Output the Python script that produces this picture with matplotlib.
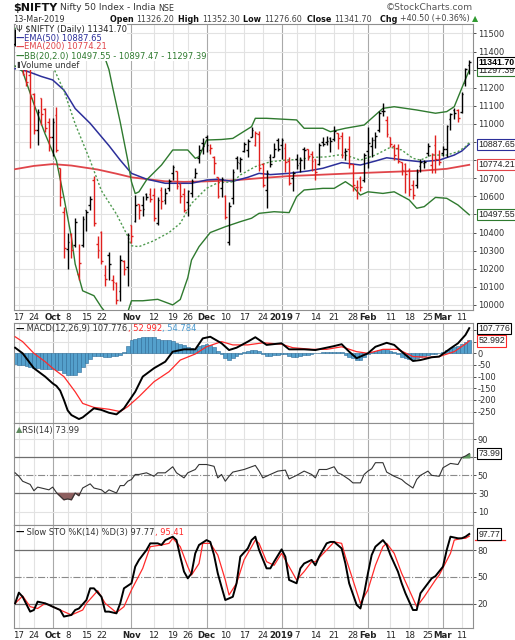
import numpy as np
import pandas as pd
import matplotlib
matplotlib.use("Agg")
import matplotlib.pyplot as plt
import matplotlib.transforms as mtransforms

plt.rcParams['font.family'] = ['DejaVu Sans']
plt.rcParams['axes.unicode_minus'] = False

# ---- trading days ----
holidays = ['2018-09-20', '2018-10-02', '2018-10-18', '2018-11-08',
            '2018-11-23', '2018-12-25', '2019-03-04']
days = pd.bdate_range('2018-09-14', '2019-03-13')
days = days[~days.isin(pd.to_datetime(holidays))]

tick_dates = ['2018-09-17', '2018-09-24', '2018-10-01', '2018-10-08', '2018-10-15',
              '2018-10-22', '2018-11-01', '2018-11-12', '2018-11-19', '2018-11-26',
              '2018-12-03', '2018-12-10', '2018-12-17', '2018-12-24', '2019-01-01',
              '2019-01-07', '2019-01-14', '2019-01-21', '2019-01-28', '2019-02-01',
              '2019-02-11', '2019-02-18', '2019-02-25', '2019-03-01', '2019-03-11']
tick_labels = ['17', '24', 'Oct', '8', '15', '22', 'Nov', '12', '19', '26', 'Dec', '10',
               '17', '24', '2019', '7', '14', '21', '28', 'Feb', '11', '18', '25', 'Mar', '11']
month_labels = ['Oct', 'Nov', 'Dec', '2019', 'Feb', 'Mar']

# ---- OHLC ----
prev_close = 11369.9
opens = [11443, 11464, 11381, 11326, 11271, 11164, 10969, 11145, 11080, 11008,
         10930, 11051, 10755, 10514, 10310, 10390, 10331, 10169, 10331, 10524,
         10550, 10688, 10339, 10405, 10166, 10278, 10135, 10122, 10078, 10240,
         10209, 10441, 10463, 10558, 10552, 10614, 10614, 10607, 10451, 10634,
         10580, 10644, 10731, 10740, 10670, 10612, 10568, 10621, 10708, 10809,
         10892, 10930, 10854, 10820, 10705, 10644, 10601, 10350, 10591, 10810,
         10784, 10853, 10856, 10930, 10885, 10944, 10780, 10635, 10817, 10820,
         10913, 10881, 10868, 10796, 10699, 10804, 10786, 10863, 10859, 10834,
         10807, 10777, 10899, 10900, 10920, 10919, 10949, 10931, 10844, 10859,
         10780, 10653, 10702, 10690, 10851, 10876, 10909, 10965, 11070, 11024,
         10930, 10880, 10865, 10789, 10780, 10746, 10661, 10665, 10770, 10782,
         10839, 10775, 10881, 10808, 10842, 10864, 11026, 11077, 11079, 11068,
         11228, 11326.2]
highs = [11523, 11464, 11411, 11333, 11346, 11170, 11080, 11145, 11089, 11034,
         11035, 11096, 10755, 10541, 10398, 10397, 10482, 10335, 10492, 10526,
         10604, 10710, 10380, 10408, 10222, 10290, 10166, 10129, 10275, 10246,
         10396, 10441, 10607, 10558, 10600, 10616, 10645, 10645, 10596, 10651,
         10646, 10695, 10774, 10740, 10671, 10646, 10637, 10695, 10757, 10883,
         10922, 10941, 10890, 10821, 10707, 10704, 10606, 10567, 10752, 10822,
         10815, 10900, 10915, 10985, 10962, 10963, 10782, 10747, 10834, 10893,
         10923, 10923, 10896, 10815, 10741, 10835, 10818, 10870, 10859, 10850,
         10808, 10896, 10928, 10931, 10930, 10987, 10949, 10955, 10866, 10931,
         10780, 10690, 10710, 10838, 10984, 10928, 10957, 11073, 11118, 11042,
         10930, 10889, 10890, 10792, 10785, 10758, 10692, 10750, 10808, 10801,
         10892, 10840, 10940, 10856, 10877, 10995, 11060, 11089, 11080, 11177,
         11310, 11352.3]
lows = [11430, 11366, 11268, 11210, 10866, 10943, 10882, 10993, 10953, 10851,
        10821, 10843, 10547, 10262, 10198, 10262, 10318, 10138, 10322, 10410,
        10525, 10436, 10262, 10224, 10102, 10138, 10080, 10005, 10020, 10164,
        10105, 10341, 10457, 10477, 10491, 10582, 10569, 10464, 10440, 10532,
        10557, 10631, 10688, 10640, 10562, 10512, 10489, 10599, 10699, 10782,
        10835, 10845, 10833, 10722, 10588, 10599, 10474, 10333, 10560, 10752,
        10732, 10845, 10819, 10928, 10880, 10738, 10649, 10534, 10764, 10817,
        10853, 10808, 10735, 10662, 10628, 10750, 10733, 10749, 10801, 10739,
        10692, 10772, 10876, 10883, 10845, 10903, 10864, 10814, 10798, 10756,
        10630, 10583, 10630, 10679, 10757, 10815, 10869, 10956, 11043, 10926,
        10870, 10802, 10784, 10718, 10620, 10604, 10585, 10647, 10732, 10757,
        10823, 10729, 10729, 10773, 10823, 10817, 10969, 11027, 11008, 11062,
        11211, 11276.6]
closes = [11515, 11377, 11278, 11234, 11143, 10967, 11067, 11053, 10977, 10930,
          11008, 10858, 10599, 10316, 10348, 10301, 10460, 10234, 10472, 10512,
          10584, 10453, 10303, 10245, 10146, 10224, 10124, 10030, 10250, 10198,
          10387, 10380, 10553, 10524, 10530, 10598, 10585, 10482, 10582, 10576,
          10616, 10682, 10763, 10656, 10600, 10526, 10628, 10685, 10728, 10858,
          10876, 10883, 10869, 10782, 10601, 10693, 10488, 10549, 10737, 10791,
          10805, 10888, 10908, 10967, 10951, 10754, 10663, 10729, 10779, 10859,
          10862, 10910, 10792, 10672, 10727, 10771, 10802, 10855, 10821, 10794,
          10737, 10886, 10890, 10905, 10907, 10961, 10922, 10831, 10849, 10780,
          10661, 10652, 10651, 10831, 10894, 10912, 10934, 11062, 11069, 10944,
          10888, 10831, 10793, 10746, 10724, 10640, 10605, 10735, 10789, 10792,
          10880, 10835, 10806, 10792, 10863, 10987, 11053, 11058, 11035, 11168,
          11301.2, 11341.7]

# ---- overlays (day index, value) ----
ema50_day = [0, 2, 4, 7, 10, 13, 16, 20, 25, 28, 31, 35, 40, 47, 51, 54, 58, 62, 65, 68,
             73, 78, 82, 87, 92, 96, 99, 104, 108, 113, 117, 119, 121]
ema50_val = [11305, 11298, 11285, 11262, 11243, 11187, 11085, 11003, 10880, 10800, 10727,
             10695, 10672, 10672, 10690, 10694, 10683, 10705, 10727, 10720, 10727, 10740,
             10755, 10786, 10773, 10795, 10813, 10800, 10791, 10800, 10828, 10850, 10888]
ema200_day = [0, 5, 10, 15, 22, 27, 31, 40, 45, 50, 58, 65, 73, 80, 90, 100, 108, 115, 121]
ema200_val = [10750, 10768, 10778, 10770, 10748, 10725, 10705, 10683, 10680, 10682, 10688,
              10700, 10712, 10718, 10727, 10735, 10741, 10752, 10774]
bbu_day = [20, 22, 23, 25, 26, 28, 30, 31, 32, 33, 35, 39, 42, 46, 48, 49, 51, 55, 58, 63,
           64, 67, 75, 77, 82, 84, 88, 93, 95, 98, 101, 107, 112, 115, 117, 119, 121]
bbu_val = [11700, 11552, 11420, 11300, 11200, 11010, 10800, 10680, 10615, 10625, 10690,
           10773, 10856, 10856, 10810, 10819, 10911, 10914, 10920, 10985, 11031, 11031,
           11022, 10976, 10976, 10957, 10976, 10994, 11031, 11086, 11095, 11077, 11059,
           11068, 11095, 11197, 11297]
bbm_day = [0, 5, 10, 13, 16, 20, 23, 27, 30, 31, 33, 37, 41, 44, 47, 51, 54, 58, 60, 64,
           68, 72, 76, 79, 83, 86, 88, 92, 96, 100, 103, 106, 108, 111, 115, 118, 120, 121]
bbm_val = [11530, 11430, 11320, 11183, 11000, 10797, 10631, 10502, 10380, 10327, 10322,
           10355, 10400, 10451, 10561, 10644, 10675, 10680, 10718, 10764, 10791, 10800,
           10804, 10815, 10818, 10828, 10828, 10800, 10828, 10871, 10856, 10810, 10800,
           10828, 10828, 10847, 10874, 10897]
bbl_day = [0, 2, 5, 8, 11, 13, 15, 16, 18, 21, 23, 25, 28, 30, 31, 34, 38, 42, 44, 46, 47,
           49, 52, 56, 60, 63, 65, 69, 73, 75, 77, 82, 85, 88, 90, 92, 94, 98, 101, 105,
           107, 109, 112, 115, 118, 121]
bbl_val = [11320, 11290, 11110, 10944, 10797, 10594, 10373, 10226, 10078, 10051, 9987,
           9935, 9900, 9960, 10023, 10023, 10031, 10000, 10030, 10150, 10248, 10322, 10400,
           10432, 10460, 10479, 10506, 10515, 10510, 10598, 10635, 10644, 10644, 10681,
           10653, 10607, 10625, 10616, 10625, 10580, 10534, 10543, 10594, 10589, 10552, 10498]

# ---- MACD ----
macd_day = [0, 2, 5, 8, 10, 11, 12, 13, 14, 15, 17, 18, 19, 21, 23, 25, 27, 29, 32, 34, 37,
            40, 42, 45, 48, 50, 52, 55, 57, 59, 62, 64, 67, 71, 73, 77, 80, 85, 87, 89, 91,
            94, 96, 99, 101, 103, 106, 108, 111, 113, 116, 118, 120, 121]
macd_val = [24, 0, -64, -100, -129, -140, -160, -200, -245, -265, -282, -275, -262, -236,
            -243, -255, -262, -236, -165, -100, -64, -36, 7, 17, 17, 64, 71, 43, 14, 24, 50,
            69, 36, 43, 17, 17, 14, 31, 39, 7, -21, 0, 28, 45, 36, 7, -33, -29, -17, -14, 21,
            43, 79, 107.8]
sig_day = [0, 2, 5, 8, 10, 13, 16, 18, 21, 25, 28, 30, 33, 37, 41, 44, 48, 51, 55, 58, 62,
           66, 71, 74, 79, 83, 87, 91, 94, 98, 102, 106, 110, 113, 117, 120, 121]
sig_val = [71, 50, 0, -36, -64, -100, -165, -215, -232, -240, -250, -229, -186, -122, -79,
           -29, -3, 28, 50, 36, 36, 45, 39, 24, 17, 17, 28, 7, 0, 17, 17, -14, -17, -14, 7,
           40, 53]
hist_val = [-47, -50, -52, -55, -58, -62, -64, -66, -66, -68,
            -68, -70, -72, -85, -92, -95, -93, -80, -60, -42,
            -25, -12, -10, -12, -14, -14, -12, -10, -6, 5,
            30, 55, 62, 66, 68, 70, 71, 70, 62, 58,
            55, 55, 52, 45, 40, 35, 28, 22, 20, 30,
            36, 38, 36, 25, 10, -5, -20, -28, -22, -12,
            -5, 5, 12, 16, 16, 12, -4, -10, -10, -8,
            -6, -2, -4, -10, -14, -14, -12, -8, -6, -4,
            0, 2, 4, 5, 5, 6, 7, 4, -6, -14,
            -20, -30, -28, -18, -5, 5, 10, 15, 18, 17,
            12, 5, -5, -15, -22, -26, -25, -20, -15, -12,
            -8, -4, -2, 0, 5, 15, 22, 28, 32, 38,
            48, 55]

# ---- RSI ----
rsi_day = [0, 1, 2, 4, 5, 6, 8, 9, 10, 11, 13, 14, 15, 16, 17, 18, 20, 21, 23, 24, 25, 27,
           28, 29, 30, 31, 32, 33, 35, 37, 38, 40, 42, 43, 45, 46, 48, 49, 51, 53, 54, 55,
           56, 57, 58, 61, 64, 65, 66, 68, 70, 72, 73, 75, 77, 79, 80, 81, 83, 85, 86, 87,
           89, 90, 92, 93, 94, 95, 96, 98, 99, 101, 103, 104, 106, 107, 108, 110, 111, 113,
           114, 116, 118, 119, 120, 121]
rsi_val = [52.8, 49, 43.5, 40, 33, 37, 35, 34, 37, 31, 23, 24, 23, 30.5, 27.5, 36, 40.6, 36,
           34, 30.5, 34, 30.5, 38.7, 38.7, 43.5, 45.4, 51, 51, 52.8, 49, 52.8, 52.8, 59.5,
           52.8, 47.2, 52.8, 56.5, 62, 62, 60, 47.2, 51, 43.5, 49, 53.6, 56.5, 61, 54.7, 47.2,
           51, 54.7, 55.8, 46, 50, 54.7, 51, 47.2, 56.5, 56.5, 59.5, 52.8, 51, 45.4, 41.7,
           41.7, 51, 54.7, 57.3, 64, 64, 53.6, 49, 45.4, 41.7, 36, 45.4, 50, 54.7, 50, 49,
           58.4, 63.2, 62, 69.6, 71.4, 74]

# ---- Slow stochastic ----
k_day = [0, 1, 2, 4, 5, 6, 8, 9, 10, 12, 13, 15, 16, 17, 19, 20, 21, 23, 24, 25, 27, 28,
         29, 31, 32, 33, 35, 36, 38, 39, 40, 42, 43, 44, 45, 46, 47, 48, 49, 51, 52, 53, 54,
         55, 56, 58, 59, 60, 62, 63, 64, 65, 67, 68, 69, 71, 72, 73, 75, 76, 77, 79, 80, 81,
         83, 84, 85, 87, 88, 89, 91, 92, 93, 94, 95, 96, 98, 99, 100, 102, 103, 104, 106,
         107, 108, 110, 111, 112, 114, 115, 116, 118, 119, 120, 121]
k_val = [20.7, 32.6, 28, 11.5, 13.3, 22.6, 20.7, 19, 17, 13.3, 6, 7.8, 13.3, 15, 24.4, 37.4,
         37.4, 28, 11.5, 11.5, 9.6, 20.7, 37.4, 43, 61.5, 69, 80, 87.4, 87.4, 85.6, 91, 94.8,
         91, 72.6, 56, 48.5, 54, 76.3, 85.6, 91, 89, 74.4, 54, 39, 24.4, 28, 43, 72.6, 81.8,
         91, 94.8, 80, 59.6, 59.6, 67, 80.7, 72.6, 46.7, 43, 59.6, 65, 69, 63, 72.6, 87.4,
         89, 89, 81.8, 65, 43, 19, 15, 31.9, 54, 74.4, 83.7, 91, 85.6, 74.4, 56, 43, 31.9,
         13.3, 13.3, 31.9, 43, 48.5, 51, 61.5, 80, 94.8, 93, 93, 94.8, 97.8]
d_day = [0, 2, 4, 6, 8, 10, 13, 15, 18, 19, 22, 24, 27, 29, 31, 34, 36, 39, 41, 42, 44, 46,
         47, 49, 50, 52, 54, 56, 57, 59, 61, 64, 65, 67, 69, 71, 73, 75, 77, 79, 80, 83, 85,
         87, 88, 90, 92, 94, 96, 98, 99, 101, 103, 105, 107, 109, 112, 113, 116, 117, 119,
         120, 121]
d_val = [20.7, 28.9, 17, 15, 20.7, 17, 11.5, 7.8, 13.3, 20.7, 34.8, 20.7, 10.4, 17, 35.6,
         59.6, 83.7, 85.6, 87.4, 93, 83.7, 61.5, 52.2, 65, 87.4, 87.4, 74.4, 46.7, 30, 43,
         69, 91, 87.4, 67, 63, 76.3, 61.5, 46.7, 56, 67, 67, 80, 89, 87.4, 72.6, 46.7, 20.7,
         35.6, 63, 83.7, 87.4, 76.3, 54, 35.6, 17, 28, 46.7, 52.2, 76.3, 91, 93, 93, 95.4]

# ---- figure ----
W, H = 515, 640
fig = plt.figure(figsize=(W / 100, H / 100), dpi=100)
fig.patch.set_facecolor('white')


def px_axes(top, bottom):
    return fig.add_axes([14 / W, 1 - bottom / H, 459 / W, (bottom - top) / H])


ax1 = px_axes(24, 310)
ax2 = px_axes(323, 423)
ax3 = px_axes(423, 525)
ax4 = px_axes(525, 628)

x = np.arange(len(days))
tick_pos = [days.get_loc(pd.Timestamp(d)) for d in tick_dates]
grid_c = '#e2e2e2'
month_c = '#a9a9a9'

for ax in (ax1, ax2, ax3, ax4):
    ax.set_xlim(-0.3, 122.0)
    for p, lab in zip(tick_pos, tick_labels):
        ax.axvline(p, color=month_c if lab in month_labels else grid_c, lw=0.8, zorder=0)
    for s in ax.spines.values():
        s.set_color('#8f8f8f')
        s.set_linewidth(0.8)
    ax.yaxis.tick_right()
    ax.tick_params(axis='y', direction='out', length=2.5, width=0.6, pad=1,
                   labelsize=6, colors='#333333')
    ax.set_xticks(tick_pos)
    ax.tick_params(axis='x', length=0, pad=2, labelsize=6.2, colors='#222222')
    ax.set_xticklabels([])

for ax in (ax1, ax4):
    ax.set_xticklabels(tick_labels)
    for t in ax.get_xticklabels():
        if t.get_text() in month_labels:
            t.set_fontweight('bold')


def right_labels(ax, ticks, hidden):
    ax.set_yticks(ticks)
    ax.set_yticklabels(['' if v in hidden else str(v) for v in ticks])


# price panel
ax1.set_ylim(9972, 11552)
price_ticks = list(range(10000, 11501, 100))
right_labels(ax1, price_ticks, [10500, 10800, 10900, 11300])
for v in price_ticks:
    ax1.axhline(v, color=grid_c, lw=0.8, zorder=0)
prevs = [prev_close] + closes[:-1]
cols = ['#000000' if c >= p else '#e0201e' for c, p in zip(closes, prevs)]
ax1.vlines(x, lows, highs, colors=cols, lw=1.0, zorder=4)
ax1.hlines(opens, x - 0.45, x, colors=cols, lw=1.0, zorder=4)
ax1.hlines(closes, x, x + 0.45, colors=cols, lw=1.0, zorder=4)
ax1.plot(ema200_day, ema200_val, color='#e0454a', lw=1.3, zorder=3)
ax1.plot(ema50_day, ema50_val, color='#2c2f9a', lw=1.1, zorder=3)
ax1.plot(bbu_day, bbu_val, color='#2f7a2f', lw=1.0, zorder=3)
ax1.plot(bbl_day, bbl_val, color='#2f7a2f', lw=1.0, zorder=3)
ax1.plot(bbm_day, bbm_val, color='#4f9a4f', lw=1.0, ls=(0, (1.5, 1.5)), zorder=3)

# MACD panel
ax2.set_ylim(-299, 130)
right_labels(ax2, [100, 50, 0, -50, -100, -150, -200, -250], [100, 50])
for v in range(-250, 101, 50):
    ax2.axhline(v, color=grid_c, lw=0.8, zorder=0)
ax2.bar(x, hist_val, width=1.0, color='#54a0cc', edgecolor='#2c6c98', lw=0.4, zorder=2)
ax2.plot(sig_day, sig_val, color='#ff2a2a', lw=0.9, zorder=3)
ax2.plot(macd_day, macd_val, color='#000000', lw=1.4, zorder=4)

# RSI panel
ax3.set_ylim(-4.9, 107.9)
right_labels(ax3, [10, 30, 50, 70, 90], [70])
for v in (10, 90):
    ax3.axhline(v, color=grid_c, lw=0.8, zorder=0)
for v in (30, 70):
    ax3.axhline(v, color='#6e6e6e', lw=0.9, zorder=1)
ax3.axhline(50, color='#8a8a8a', lw=0.8, ls='-.', zorder=1)
rv = np.array(rsi_val)
ax3.fill_between(rsi_day, rv, 30, where=rv < 30, interpolate=True, color='#8d5f5f', zorder=2)
ax3.fill_between(rsi_day, rv, 70, where=rv > 70, interpolate=True, color='#5f9a5f', zorder=2)
ax3.plot(rsi_day, rsi_val, color='#333333', lw=0.8, zorder=3)

# STO panel
ax4.set_ylim(-6.7, 107.8)
right_labels(ax4, [20, 50, 80], [])
for v in (20, 80):
    ax4.axhline(v, color='#6e6e6e', lw=0.9, zorder=1)
ax4.axhline(50, color='#8a8a8a', lw=0.8, ls='-.', zorder=1)
ax4.plot(d_day, d_val, color='#ff2a2a', lw=0.9, zorder=3)
ax4.plot(k_day, k_val, color='#000000', lw=1.4, zorder=4)


# value tags on the right axis
def tag(ax, val, txt, ec, bold=False, tc='#222222'):
    tr = mtransforms.blended_transform_factory(ax.transAxes, ax.transData)
    ax.text(1.012, val, txt, transform=tr, ha='left', va='center', fontsize=6.3,
            family='Liberation Sans', color=tc, fontweight='bold' if bold else 'normal',
            clip_on=False, zorder=10,
            bbox=dict(boxstyle='square,pad=0.12', fc='white', ec=ec, lw=0.8))


tag(ax1, 10497.55, '10497.55', '#2f7a2f')
tag(ax1, 10774.21, '10774.21', '#e0454a')
tag(ax1, 10887.65, '10887.65', '#2c2f9a')
tag(ax1, 11297.39, '11297.39', '#2f7a2f')
tag(ax1, 11341.70, '11341.70', '#000000', bold=True, tc='#000000')
tag(ax2, 52.992, '52.992', '#ff2a2a')
tag(ax2, 107.776, '107.776', '#000000')
tag(ax3, 73.99, '73.99', '#000000')
# %D tag sits under the %K tag; only its red edge shows
tr4 = mtransforms.blended_transform_factory(ax4.transAxes, ax4.transData)
ax4.plot([1.004, 1.07], [95.41 - 4.5, 95.41 - 4.5], transform=tr4, color='#ff2a2a',
         lw=0.9, clip_on=False, zorder=9)
tag(ax4, 97.77, '97.77', '#000000')

# ---- texts ----
renderer = fig.canvas.get_renderer()


def seq_text(x_px, y_px, parts, size, bg=False):
    xp = x_px
    for s, c, w in parts:
        kw = {}
        if bg:
            kw['bbox'] = dict(boxstyle='square,pad=0.05', fc='white', ec='none')
        t = fig.text(xp / W, 1 - y_px / H, s, color=c, fontsize=size, fontweight=w,
                     ha='left', va='center', **kw)
        xp += t.get_window_extent(renderer=renderer).width
    return xp


end = seq_text(13, 8, [('$NIFTY', '#111111', 'bold')], 8)
end = seq_text(end + 3, 8, [('Nifty 50 Index - India', '#333333', 'normal')], 6.6)
seq_text(end + 2, 8.5, [('NSE', '#333333', 'normal')], 5.8)
fig.text(473 / W, 1 - 8 / H, '\u00a9StockCharts.com', fontsize=6.6, color='#555555',
         ha='right', va='center')
seq_text(13, 19, [('13-Mar-2019', '#333333', 'normal')], 5.9)
seq_text(110, 19, [('Open ', '#111111', 'bold'), ('11326.20', '#444444', 'normal')], 5.8)
seq_text(178, 19, [('High ', '#111111', 'bold'), ('11352.30', '#444444', 'normal')], 5.8)
seq_text(243, 19, [('Low ', '#111111', 'bold'), ('11276.60', '#444444', 'normal')], 5.8)
seq_text(307, 19, [('Close ', '#111111', 'bold'), ('11341.70', '#444444', 'normal')], 5.8)
seq_text(380, 19, [('Chg ', '#111111', 'bold'), ('+40.50 (+0.36%) ', '#444444', 'normal'),
                   ('\u25b2', '#2f9a2f', 'normal')], 5.8)

seq_text(16, 29, [('\u03a8 $NIFTY (Daily) 11341.70', '#222222', 'normal')], 6, bg=True)
seq_text(16, 38, [('\u2014', '#2c2f9a', 'bold'), ('EMA(50) 10887.65', '#2c2f9a', 'normal')],
         6, bg=True)
seq_text(16, 47, [('\u2014', '#e0454a', 'bold'), ('EMA(200) 10774.21', '#e0454a', 'normal')],
         6, bg=True)
seq_text(16, 56, [('\u2014', '#2f7a2f', 'bold'),
                  ('BB(20,2.0) 10497.55 - 10897.47 - 11297.39', '#2f7a2f', 'normal')],
         6, bg=True)
seq_text(16, 65, [('\u25ae', '#333333', 'normal'), ('Volume undef', '#333333', 'normal')],
         6, bg=True)

seq_text(16, 329, [('\u2014', '#000000', 'bold'), (' MACD(12,26,9) 107.776', '#333333', 'normal'),
                   (', 52.992', '#ff2a2a', 'normal'), (', 54.784', '#4a9ad0', 'normal')], 6)
seq_text(16, 430, [('\u25b2', '#5f8a5f', 'normal'), ('RSI(14) 73.99', '#333333', 'normal')], 6)
seq_text(16, 532, [('\u2014', '#000000', 'bold'), (' Slow STO %K(14) %D(3) 97.77', '#333333', 'normal'),
                   (', 95.41', '#ff2a2a', 'normal')], 6)

fig.savefig('out.png', dpi=100, facecolor='white')
